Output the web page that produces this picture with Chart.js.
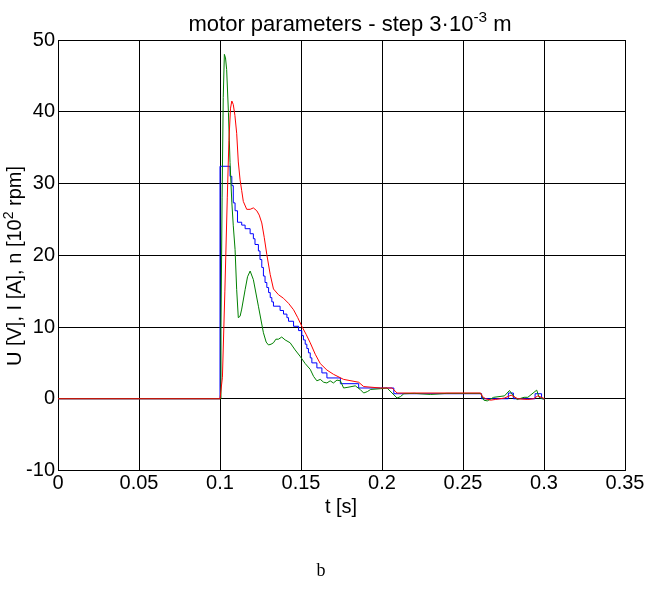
<!DOCTYPE html>
<html>
<head>
<meta charset="utf-8">
<script src="https://cdn.jsdelivr.net/npm/chart.js@4.4.0/dist/chart.umd.min.js"></script>
<style>
    html, body { margin: 0; padding: 0; background: #fff; }
    #wrap { width: 648px; height: 591px; }
</style>
</head>
<body>
<div id="wrap"><canvas id="motorChart" width="648" height="591"></canvas></div>
<script>
// red curve
const redT = [0, 0.1, 0.1015, 0.103, 0.1045, 0.1055, 0.1065, 0.1073, 0.1082, 0.1092, 0.1103, 0.1113, 0.1124,
    0.1134, 0.1144, 0.1165, 0.1186, 0.1206, 0.1227, 0.1242, 0.1258, 0.1273, 0.1289, 0.131, 0.133, 0.1361,
    0.1392, 0.1423, 0.1454, 0.148, 0.1505, 0.1531, 0.1557, 0.1588, 0.1619, 0.166, 0.1701, 0.1763, 0.1856,
    0.1887, 0.199, 0.2062, 0.2093, 0.2609, 0.262, 0.264, 0.267, 0.27, 0.2756, 0.2797, 0.2838, 0.29, 0.2935,
    0.2962, 0.2985, 0.3003];
const redV = [0, 0, 3, 15, 28, 36, 40.5, 41.5, 41, 39.5, 37, 33, 30.5,
    29, 27.5, 26.4, 26.4, 26.6, 26.2, 25.6, 24.5, 22.5, 20.1, 17.3, 15.3, 14.5,
    14, 13.3, 12.4, 11.3, 10.1, 9, 7.8, 6.2, 4.9, 4, 3.4, 2.7, 2.3,
    1.7, 1.5, 1.5, 0.8, 0.8, 0.3, 0, -0.2, -0.1, 0.1, 0.5, 0, -0.1, 0,
    0.4, 0.2, 0];

// green curve
const greenT = [0, 0.1, 0.1006, 0.1013, 0.102, 0.1027, 0.1034, 0.1041, 0.1052, 0.1062, 0.1073, 0.1082, 0.1093,
    0.1103, 0.1113, 0.1124, 0.1134, 0.1155, 0.117, 0.1186, 0.1206, 0.1237, 0.1268, 0.1285, 0.1299, 0.1315,
    0.133, 0.1345, 0.1361, 0.1381, 0.1402, 0.1433, 0.1464, 0.1495, 0.1526, 0.1557, 0.1578, 0.1598, 0.1619,
    0.164, 0.166, 0.168, 0.17, 0.1722, 0.1743, 0.1763, 0.179, 0.1835, 0.1865, 0.1887, 0.191, 0.193, 0.199,
    0.2031, 0.2062, 0.2093, 0.2114, 0.2135, 0.22, 0.23, 0.24, 0.2609, 0.2629, 0.265, 0.2689, 0.2756, 0.2787,
    0.2811, 0.2834, 0.2877, 0.29, 0.2955, 0.297, 0.3003];
const greenV = [0, 0, 10, 28, 42, 48, 47.5, 45.9, 39.9, 32.9, 27.4, 24.1, 20.8,
    15.2, 11.3, 11.5, 12.5, 15.2, 17, 17.8, 16.6, 12.9, 9.2, 7.9, 7.5, 7.6,
    7.8, 8.3, 8.3, 8.6, 8.2, 7.8, 6.8, 5.9, 4.9, 4.1, 3.1, 2.5, 2.7,
    2.3, 2.2, 2.5, 2.2, 2.6, 2.5, 1.5, 1.6, 1.8, 1.3, 0.8, 1.0, 1.3, 1.4,
    1.5, 0.8, 0.1, 0.3, 0.7, 0.75, 0.6, 0.75, 0.75, -0.2, -0.3, 0.2, 0.4, 1.15,
    0.4, -0.1, 0.2, 0.2, 1.2, 0.2, -0.1];

// blue curve (quantised, each value held until the next point)
const blueT = [0, 0.1, 0.1062, 0.1073, 0.1082, 0.1093, 0.1108, 0.1134, 0.1155, 0.1186, 0.1206, 0.1216, 0.1237,
    0.1247, 0.1258, 0.1268, 0.1278, 0.1289, 0.13, 0.131, 0.132, 0.133, 0.1371, 0.1392, 0.1413, 0.1423,
    0.1454, 0.1485, 0.1505, 0.1515, 0.1526, 0.1536, 0.1546, 0.1557, 0.1567, 0.1598, 0.1629, 0.166, 0.1743,
    0.1856, 0.2073, 0.2615, 0.278, 0.2811, 0.2945, 0.2985, 0.3003];
const blueV = [0, 32.4, 31, 29.7, 27.3, 26.2, 24.6, 24.2, 23.7, 23, 22.3, 21.5, 20.6,
    19.4, 18.3, 17.1, 16.2, 15.5, 14.8, 14.1, 13.5, 12.9, 12.3, 11.8, 11.3, 10.8,
    10.1, 9.5, 8.8, 8.2, 7.6, 7, 6.4, 5.7, 5, 4.3, 3.6, 2.9, 2.1,
    1.5, 0.7, 0, 0.8, 0, 0.7, 0, 0];

const xTicks = [0, 0.05, 0.1, 0.15, 0.2, 0.25, 0.3, 0.35];
const xTickLabels = ['0', '0.05', '0.1', '0.15', '0.2', '0.25', '0.3', '0.35'];
const yTicks = [-10, 0, 10, 20, 30, 40, 50];
const yTickLabels = ['-10', '0', '10', '20', '30', '40', '50'];

const FONT = 'Liberation Sans, Arial, sans-serif';

function toPoints(ts, vs) {
    return ts.map(function(t, i) { return { x: t, y: vs[i] }; });
}

// tekst met superscript, parts = [[tekst, isSup], ...], y = basislijn
function drawParts(ctx, parts, x, y, size) {
    let total = 0;
    parts.forEach(function(p) {
        ctx.font = (p[1] ? size * 0.7 : size) + 'px ' + FONT;
        total += ctx.measureText(p[0]).width;
    });
    let cx = x - total / 2;
    ctx.textAlign = 'left';
    ctx.textBaseline = 'alphabetic';
    parts.forEach(function(p) {
        ctx.font = (p[1] ? size * 0.7 : size) + 'px ' + FONT;
        ctx.fillText(p[0], cx, p[1] ? y - size * 0.42 : y);
        cx += ctx.measureText(p[0]).width;
    });
}

const textPlugin = {
    id: 'texts',
    afterDraw: function(chart) {
        const ctx = chart.ctx;
        const area = chart.chartArea;
        const midX = (area.left + area.right) / 2;
        ctx.save();
        ctx.fillStyle = '#000';
        // titel
        drawParts(ctx, [['motor parameters - step 3\u00b710', false], ['-3', true], [' m', false]], 350, 31, 22);
        // x as
        drawParts(ctx, [['t [s]', false]], 341, 513, 20);
        // y as
        ctx.save();
        ctx.translate(21, 266);
        ctx.rotate(-Math.PI / 2);
        drawParts(ctx, [['U [V], I [A], n [10', false], ['2', true], [' rpm]', false]], 0, 0, 20);
        ctx.restore();
        // onderschrift
        ctx.font = '18px Liberation Serif, Times New Roman, serif';
        ctx.textAlign = 'center';
        ctx.textBaseline = 'alphabetic';
        ctx.fillText('b', 321, 576);
        ctx.restore();
    }
};

const ctx = document.getElementById('motorChart').getContext('2d');
const motorChart = new Chart(ctx, {
    type: 'line',
    data: {
        datasets: [
            { data: toPoints(redT, redV), borderColor: '#ff0000' },
            { data: toPoints(greenT, greenV), borderColor: '#008000' },
            { data: toPoints(blueT, blueV), borderColor: '#0000ff', stepped: 'before' }
        ]
    },
    options: {
        responsive: false,
        animation: false,
        parsing: false,
        elements: {
            line: { borderWidth: 1, tension: 0, fill: false },
            point: { radius: 0 }
        },
        layout: { padding: { left: 0, right: 23, top: 40, bottom: 0 } },
        scales: {
            x: {
                type: 'linear',
                min: 0,
                max: 0.35,
                afterBuildTicks: function(scale) {
                    scale.ticks = xTicks.map(function(v) { return { value: v }; });
                },
                afterFit: function(scale) { scale.height = 120.5; },
                ticks: {
                    color: '#000',
                    font: { family: FONT, size: 20 },
                    padding: 1,
                    maxRotation: 0,
                    callback: function(value, index) { return xTickLabels[index]; }
                },
                grid: { color: '#000', lineWidth: 1, drawTicks: false },
                border: { color: '#000', width: 1 }
            },
            y: {
                min: -10,
                max: 50,
                afterBuildTicks: function(scale) {
                    scale.ticks = yTicks.map(function(v) { return { value: v }; });
                },
                afterFit: function(scale) { scale.width = 58; },
                ticks: {
                    color: '#000',
                    font: { family: FONT, size: 20 },
                    padding: 3,
                    callback: function(value, index) { return yTickLabels[index]; }
                },
                grid: { color: '#000', lineWidth: 1, drawTicks: false },
                border: { color: '#000', width: 1 }
            }
        },
        plugins: {
            legend: { display: false },
            tooltip: { enabled: false }
        }
    },
    plugins: [textPlugin]
});
</script>
</body>
</html>
